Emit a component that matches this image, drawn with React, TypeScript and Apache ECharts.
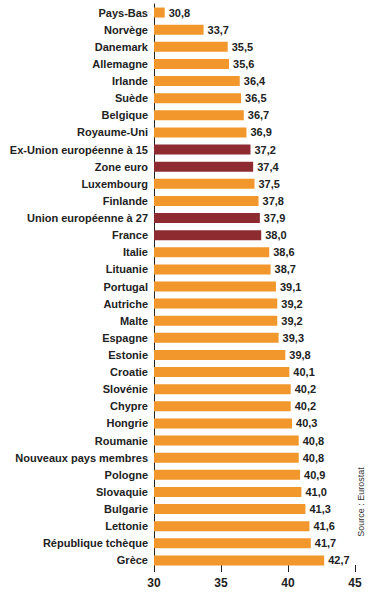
import React, { useEffect, useRef } from "react";
import * as echarts from "echarts";

const categories = [
  "Pays-Bas", "Norvège", "Danemark", "Allemagne", "Irlande", "Suède", "Belgique",
  "Royaume-Uni", "Ex-Union européenne à 15", "Zone euro", "Luxembourg", "Finlande",
  "Union européenne à 27", "France", "Italie", "Lituanie", "Portugal", "Autriche",
  "Malte", "Espagne", "Estonie", "Croatie", "Slovénie", "Chypre", "Hongrie",
  "Roumanie", "Nouveaux pays membres", "Pologne", "Slovaquie", "Bulgarie",
  "Lettonie", "République tchèque", "Grèce",
];

const values = [
  30.8, 33.7, 35.5, 35.6, 36.4, 36.5, 36.7, 36.9, 37.2, 37.4, 37.5, 37.8, 37.9,
  38.0, 38.6, 38.7, 39.1, 39.2, 39.2, 39.3, 39.8, 40.1, 40.2, 40.2, 40.3, 40.8,
  40.8, 40.9, 41.0, 41.3, 41.6, 41.7, 42.7,
];

const highlighted = ["Ex-Union européenne à 15", "Zone euro", "Union européenne à 27", "France"];

const xTicks = { min: 30, max: 45, interval: 5 };

const ORANGE = "#F1972B";
const DARKRED = "#8D2B31";
const FONT = "Liberation Sans";

export default function App() {
  const ref = useRef<HTMLDivElement>(null);
  useEffect(() => {
    document.body.style.margin = "0";
    const chart = echarts.init(ref.current!, null, { renderer: "svg" });
    chart.setOption({
      animation: false,
      backgroundColor: "#ffffff",
      grid: { left: 154, right: 15, top: 4, bottom: 28, containLabel: false },
      xAxis: {
        type: "value",
        min: xTicks.min,
        max: xTicks.max,
        interval: xTicks.interval,
        position: "bottom",
        offset: 3,
        axisLine: { show: false },
        axisTick: { show: true, inside: true, length: 7, lineStyle: { color: "#222", width: 1 } },
        splitLine: { show: false },
        axisLabel: { color: "#222", fontFamily: FONT, fontWeight: "bold", fontSize: 12, margin: 5 },
      },
      yAxis: {
        type: "category",
        data: categories,
        inverse: true,
        axisLine: { show: true, lineStyle: { color: "#222", width: 1 } },
        axisTick: { show: false },
        axisLabel: { color: "#222", fontFamily: FONT, fontWeight: "bold", fontSize: 11, margin: 6 },
      },
      series: [
        {
          type: "bar",
          barWidth: 10,
          data: values.map((v, i) => ({
            value: v,
            itemStyle: { color: highlighted.includes(categories[i]) ? DARKRED : ORANGE },
          })),
          label: {
            show: true,
            position: "right",
            distance: 4,
            color: "#222",
            fontFamily: FONT,
            fontWeight: "bold",
            fontSize: 11,
            formatter: (p: any) => p.value.toFixed(1).replace(".", ","),
          },
        },
      ],
      graphic: [
        {
          type: "text",
          x: 361,
          y: 502,
          rotation: Math.PI / 2,
          style: {
            text: "Source : Eurostat",
            fill: "#333",
            fontFamily: FONT,
            fontSize: 9,
            align: "center",
            verticalAlign: "middle",
          },
        },
      ],
    });
    return () => chart.dispose();
  }, []);
  return <div ref={ref} style={{ width: 370, height: 597 }} />;
}
